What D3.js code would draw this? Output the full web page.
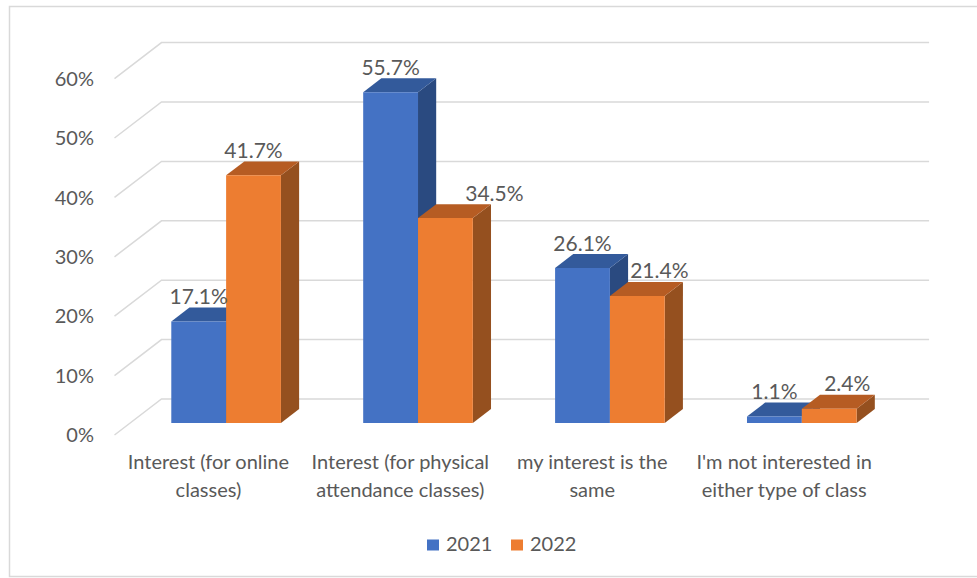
<!DOCTYPE html>
<html>
<head>
<meta charset="utf-8">
<script src="https://cdn.jsdelivr.net/npm/d3@7"></script>
<style>
  html, body { margin: 0; padding: 0; background: #fff; }
  svg { display: block; }
  text { font-family: Lato, "Open Sans", sans-serif; fill: #595959; }
</style>
</head>
<body>
<svg id="chart" width="977" height="578"></svg>
<script>
// ---- data ----
const categories = [
  "Interest (for online classes)",
  "Interest (for physical attendance classes)",
  "my interest is the same",
  "I'm not interested in either type of class"
];
const categoryLines = [
  ["Interest (for online", "classes)"],
  ["Interest (for physical", "attendance classes)"],
  ["my interest is the", "same"],
  ["I'm not interested in", "either type of class"]
];
const seriesNames = ["2021", "2022"];
const values2021 = [0.171, 0.557, 0.261, 0.011];
const values2022 = [0.417, 0.345, 0.214, 0.024];
const yTicks = [0, 0.1, 0.2, 0.3, 0.4, 0.5, 0.6];

// ---- layout ----
const W = 977, H = 578;
const floorLeft = 114.5, floorFront = 435;        // front-left corner of the floor
const plotWidth = 767.6;                          // width of the category axis
const depth = { x: 47, y: -36 };                  // full depth of the 3D box
const barFrontT = 1 / 3, barBackT = 0.72;         // depth slice occupied by the bars
const palette = {
  "2021": { front: "#4472C4", top: "#335A9B", side: "#2A4A80" },
  "2022": { front: "#ED7D31", top: "#B65C23", side: "#95501F" }
};
// sideways nudges applied to value labels to keep them clear of neighbouring bars
const labelNudge = { "2021": [0, 0, 0, 0], "2022": [0, 49, 22, 18] };

const svg = d3.select("#chart");

// chart frame
svg.append("rect")
  .attr("x", 9.5).attr("y", 6.5).attr("width", W).attr("height", 570)
  .attr("fill", "none").attr("stroke", "#d9d9d9").attr("stroke-width", 1.5);

const x0 = d3.scaleBand().domain(categories).range([floorLeft, floorLeft + plotWidth]);
const groupWidth = x0.bandwidth() * 0.5714;      // gap width 150%
const x1 = d3.scaleBand().domain(seriesNames).range([0, groupWidth]);
const y = d3.scaleLinear().domain([0, 0.6]).range([0, 356.4]);  // height above the floor

// project a point (x on front plane, height value, depth t) to screen
function proj(px, v, t) {
  return [px + depth.x * t, floorFront - y(v) + depth.y * t];
}

// ---- gridlines: back wall lines + left side wall diagonals ----
const grid = svg.append("g").attr("stroke", "#d9d9d9").attr("stroke-width", 1.5).attr("fill", "none");
yTicks.forEach(v => {
  const a = proj(floorLeft, v, 0), b = proj(floorLeft, v, 1), c = proj(floorLeft + plotWidth, v, 1);
  grid.append("polyline").attr("points", [a, b, c].map(p => p.join(",")).join(" "));
});

// ---- y-axis labels ----
const fmt = d3.format(".0%");
svg.append("g").selectAll("text").data(yTicks).join("text")
  .attr("x", 94)
  .attr("y", d => proj(floorLeft, d, 0)[1])
  .attr("dy", "0.36em")
  .attr("text-anchor", "end")
  .attr("font-size", 20)
  .text(d => fmt(d));

// ---- bars ----
const bars = [];
categories.forEach((c, i) => {
  seriesNames.forEach((s, j) => {
    const v = (s === "2021" ? values2021 : values2022)[i];
    bars.push({ c, i, s, v });
  });
});

const barsG = svg.append("g");
const pts = arr => arr.map(p => p.join(",")).join(" ");
bars.forEach(b => {
  const offset = (x0.bandwidth() - groupWidth) / 2;
  const xl = x0(b.c) + offset + x1(b.s);
  const xr = xl + x1.bandwidth();
  const col = palette[b.s];
  const g = barsG.append("g");
  // corners
  const fbl = proj(xl, 0, barFrontT), fbr = proj(xr, 0, barFrontT);
  const ftl = proj(xl, b.v, barFrontT), ftr = proj(xr, b.v, barFrontT);
  const btl = proj(xl, b.v, barBackT), btr = proj(xr, b.v, barBackT);
  const bbr = proj(xr, 0, barBackT);
  // side face
  g.append("polygon").attr("points", pts([fbr, ftr, btr, bbr])).attr("fill", col.side);
  // top face
  g.append("polygon").attr("points", pts([ftl, ftr, btr, btl])).attr("fill", col.top);
  // front face
  g.append("polygon").attr("points", pts([fbl, fbr, ftr, ftl])).attr("fill", col.front);
  b.labelX = (ftl[0] + ftr[0]) / 2 + labelNudge[b.s][b.i];
  b.labelY = btl[1] - 3.5;
});

// ---- value labels ----
const pct = d3.format(".1%");
svg.append("g").selectAll("text").data(bars).join("text")
  .attr("x", d => d.labelX)
  .attr("y", d => d.labelY)
  .attr("text-anchor", "middle")
  .attr("font-size", 21)
  .text(d => pct(d.v));

// ---- category labels ----
const catG = svg.append("g");
categories.forEach((c, i) => {
  const cx = x0(c) + x0.bandwidth() / 2 - 2;
  const t = catG.append("text").attr("text-anchor", "middle").attr("font-size", 20);
  categoryLines[i].forEach((line, k) => {
    t.append("tspan").attr("x", cx).attr("y", 469 + k * 28).text(line);
  });
});

// ---- legend ----
const legend = svg.append("g");
const legendX = [427, 511];
seriesNames.forEach((s, j) => {
  legend.append("rect")
    .attr("x", legendX[j]).attr("y", 539.5).attr("width", 12).attr("height", 11)
    .attr("fill", palette[s].front);
  legend.append("text")
    .attr("x", legendX[j] + 19).attr("y", 551)
    .attr("font-size", 20)
    .text(s);
});
</script>
</body>
</html>
